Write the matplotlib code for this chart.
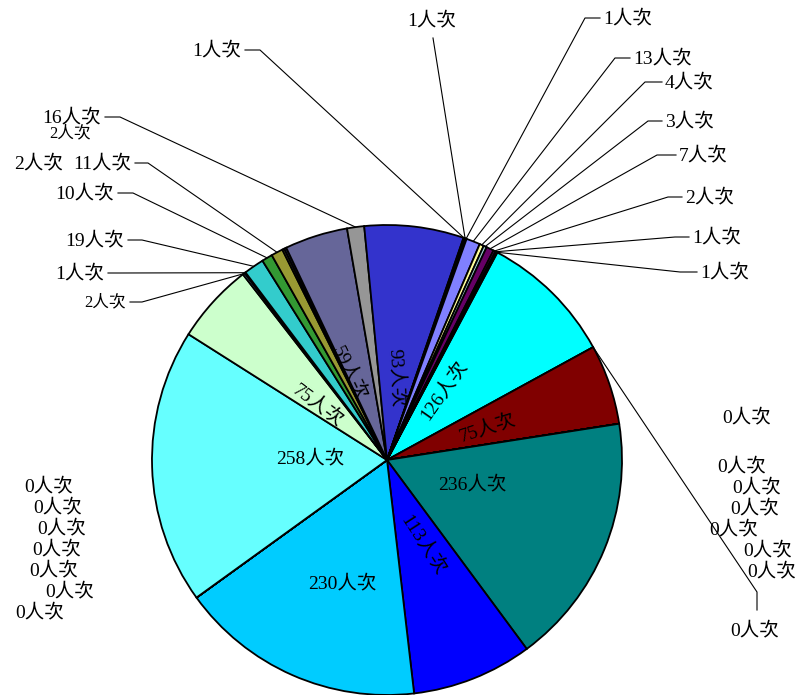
import matplotlib
matplotlib.use("Agg")
import matplotlib.pyplot as plt
import numpy as np

plt.rcParams['font.family'] = ['Liberation Serif', 'Noto Sans CJK TC']

W, H = 805, 695
CX, CY, R = 387, 460, 235   # pie centre and radius, pixel coords (y down)

# slices clockwise, starting at the cyan slice
values = [126, 0, 75, 0, 0, 0, 0, 0, 0, 0, 236, 113, 230,
          0, 0, 0, 0, 0, 0, 0, 258, 75, 2, 1, 19, 10, 11, 2, 2,
          59, 16, 93, 1, 1, 1, 13, 4, 3, 7, 2, 1, 1]
colors = ['#00FFFF', '#800080', '#800000', '#FF8080', '#FF8080', '#FF8080', '#FF8080',
          '#FF8080', '#FF8080', '#FF8080', '#008080', '#0000FF', '#00CCFF',
          '#CCFFFF', '#CCFFFF', '#CCFFFF', '#CCFFFF', '#CCFFFF', '#CCFFFF', '#CCFFFF',
          '#66FFFF', '#CCFFCC', '#6699CC', '#99CCFF', '#33CCCC', '#339933', '#999933',
          '#666633', '#333366', '#666699', '#969696', '#3333CC', '#333300', '#000000',
          '#333333', '#8080FF', '#FFFF99', '#99CCCC', '#660066', '#800080', '#000080',
          '#FF00FF']
labels = [f"{v}人次" for v in values]

# label anchor (pixel), alignment, rotation, font size
label_xy = [(443, 390), (755, 630), (487, 428), (747, 417), (742, 466), (757, 487),
            (755, 508), (734, 529), (768, 550), (772, 571), (472, 484), (423, 545),
            (342, 583), (49, 486), (58, 507), (62, 528), (57, 549), (54, 570),
            (70, 591), (40, 612), (310, 458), (318, 405), (126, 302), (104, 273),
            (124, 240), (114, 193), (131, 163), (39, 163), (70, 133), (350, 373),
            (101, 117), (396, 378), (241, 50), (432, 20), (603, 18), (633, 58),
            (665, 82), (665, 121), (679, 155), (685, 197), (692, 237), (700, 272)]
label_ha = (['center'] * 22 + ['right'] * 5 + ['center'] * 3 + ['right', 'center', 'right', 'center']
            + ['left'] * 8)
label_rot = [55, 0, 18] + [0] * 8 + [-57, 0] + [0] * 8 + [-37] + [0] * 7 + [-64, 0, -87] + [0] * 10
label_size = [14] * 22 + [12] + [14] * 5 + [12] + [14] * 13

# leader lines: first points from the label, last point is on the rim
leaders = [None, [(757, 610), (757, 592)], None] + [None] * 19 + [
    [(130, 302), (142, 302)], [(108, 273), (120, 273)], [(128, 240), (142, 240)],
    [(118, 193), (133, 193)], [(135, 163), (148, 163)], None, None, None,
    [(105, 117), (120, 117)], None, [(245, 50), (260, 50)], [(433, 38)],
    [(600, 18), (585, 18)], [(630, 58), (615, 58)], [(662, 82), (645, 82)],
    [(662, 121), (648, 121)], [(676, 155), (657, 155)], [(682, 197), (668, 197)],
    [(689, 237), (675, 237)], [(697, 272), (680, 272)]]


def px(p):
    return p[0], H - p[1]


fig = plt.figure(figsize=(W / 100, H / 100), dpi=100)
ax = fig.add_axes([0, 0, 1, 1])
wedges, _ = ax.pie(values, colors=colors, startangle=90 - 28, counterclock=False,
                   center=(CX, H - CY), radius=R,
                   wedgeprops=dict(edgecolor='black', linewidth=1.3))
ax.set_xlim(0, W)
ax.set_ylim(0, H)
ax.axis('off')

for w, lab, xy, ha, rot, fs, ld in zip(wedges, labels, label_xy, label_ha,
                                         label_rot, label_size, leaders):
    x, y = px(xy)
    ax.text(x, y, lab, ha=ha, va='center', rotation=rot, rotation_mode='anchor',
            fontsize=fs, color='black')
    if ld is not None:
        mid = np.deg2rad((w.theta1 + w.theta2) / 2)
        rim = (CX + R * np.cos(mid), H - CY + R * np.sin(mid))
        pts = [px(p) for p in ld] + [rim]
        ax.plot([p[0] for p in pts], [p[1] for p in pts], color='black', lw=0.8)

fig.savefig('out.png', dpi=100)
